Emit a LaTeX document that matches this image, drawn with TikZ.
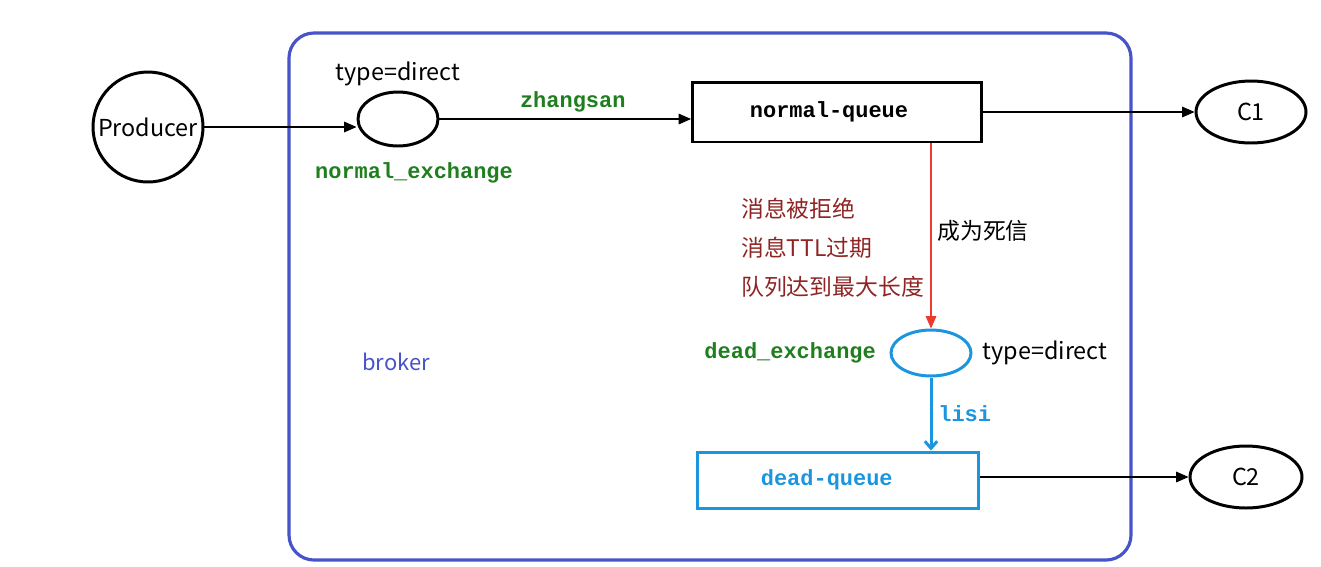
\documentclass[tikz,border=0pt]{standalone}
\usepackage{fontspec}
\setmainfont{Noto Sans CJK SC}
\setmonofont{Liberation Mono}
\usepackage{xcolor}
\usetikzlibrary{shapes.geometric,arrows.meta,positioning}
\definecolor{brokerblue}{HTML}{4753C9}
\definecolor{deadblue}{HTML}{1B96DE}
\definecolor{keygreen}{HTML}{1F7F1F}
\definecolor{reasonred}{HTML}{8E2424}
\definecolor{linkred}{HTML}{EE3A2E}

\begin{document}
\begin{tikzpicture}[
    x=0.02cm, y=-0.02cm,
    node distance=0.15cm,
    every node/.style={font=\fontsize{13.3}{15}\selectfont},
    endpoint/.style={ellipse, draw, line width=1.7pt, inner sep=0pt},
    exchange/.style={ellipse, draw, line width=1.7pt, minimum width=1.6cm, minimum height=1.08cm},
    queue/.style={rectangle, draw, line width=1.7pt, font=\fontsize{12.5}{15}\selectfont\ttfamily\bfseries},
    keylabel/.style={text=keygreen, font=\fontsize{12.5}{15}\selectfont\ttfamily\bfseries},
    arrow/.style={-{Triangle[length=7pt,width=6pt]}, line width=0.6pt},
]
    \useasboundingbox (0,0) rectangle (1321,566);
    % broker
    \draw[brokerblue, line width=1.8pt, rounded corners=0.5cm] (289,33) rectangle (1131,560);
    \node[text=brokerblue, font=\fontsize{12.5}{15}\selectfont] (broker) at (396,362) {broker};

    % producer side
    \node[endpoint, circle, minimum size=2.2cm] (prod) at (148,127) {Producer};
    \node[exchange] (nx) at (398,119) {};
    \node[above=-0.04cm of nx] (nxtype) {type=direct};
    \node[keylabel, below=0.18cm of nx, xshift=0.32cm] (nxname) {normal\_exchange};
    \node[queue, minimum width=5.78cm, minimum height=1.2cm] (nq) at (837,112) {normal-queue\hspace*{0.32cm}};
    \node[endpoint, minimum width=2.2cm, minimum height=1.24cm] (c1) at (1251,112) {C1};

    \draw[arrow] (prod.east) -- (prod.east -| nx.west);
    \draw[arrow] (nx.east) -- node[keylabel, above=0cm, xshift=0.15cm] {zhangsan} (nq.west |- nx.east);
    \draw[arrow] (nq.east) -- (c1.west);

    % dead letter path
    \node[exchange, deadblue, minimum height=0.92cm] (dx) at (931,353) {};
    \node[keylabel, left=0.15cm of dx] (dxname) {dead\_exchange};
    \node[right=0.08cm of dx] (dxtype) {type=direct};
    \node[queue, deadblue, minimum width=5.64cm, minimum height=1.12cm] (dq) at (838,480) {dead-queue\hspace*{0.45cm}};
    \node[endpoint, minimum width=2.24cm, minimum height=1.24cm] (c2) at (1246,477) {C2};

    \node[text=reasonred, align=left, anchor=west, font=\fontsize{13}{22.2}\selectfont] (why) at (735,248) {消息被拒绝\\消息TTL过期\\队列达到最大长度};

    \draw[arrow, linkred] (nq.south -| dx.north) -- node[right, pos=0.47, text=black, font=\fontsize{13}{15}\selectfont] {成为死信} (dx.north);
    \draw[-{Straight Barb[length=4pt,width=7pt]}, deadblue, line width=1.7pt] (dx.south) -- node[right, text=deadblue, font=\fontsize{12.5}{15}\selectfont\ttfamily\bfseries] {lisi} (dx.south |- dq.north);
    \draw[arrow] (dq.east |- c2.west) -- (c2.west);
\end{tikzpicture}
\end{document}
